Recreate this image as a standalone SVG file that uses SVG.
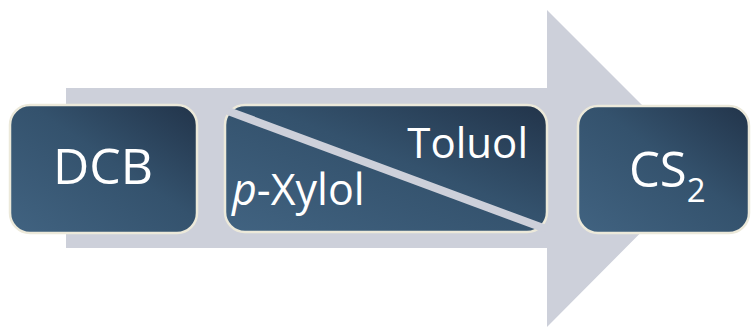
<svg xmlns="http://www.w3.org/2000/svg" width="751" height="327" viewBox="0 0 751 327">
<defs>
<linearGradient id="g" x1="0" y1="1" x2="1" y2="0">
<stop offset="0" stop-color="#416381"/>
<stop offset="0.55" stop-color="#34526d"/>
<stop offset="1" stop-color="#22344a"/>
</linearGradient>
<style>
.box{fill:url(#g);stroke:#ece9da;stroke-width:2.5}
.t{font-family:"Open Sans","Liberation Sans",sans-serif;fill:#ffffff}
</style>
</defs>
<rect width="751" height="327" fill="#ffffff"/>
<g id="arrow">
<polygon points="66,88 547,88 547,10 705,168 547,327 547,248 66,248" fill="#cdd0da"/>
</g>
<g id="dcb">
<rect class="box" x="10" y="105" width="187" height="128" rx="20"/>
<text class="t" x="103" y="184" font-size="50" text-anchor="middle">DCB</text>
</g>
<g id="mix">
<rect class="box" x="225" y="105" width="322" height="127" rx="20"/>
<line x1="228" y1="111" x2="546" y2="229" stroke="#cdd0da" stroke-width="8"/>
<text class="t" x="528" y="158" font-size="42" text-anchor="end">Toluol</text>
<text class="t" x="232" y="205" font-size="43"><tspan font-style="italic">p</tspan>-Xylol</text>
</g>
<g id="cs2">
<rect class="box" x="578" y="106" width="171" height="127" rx="20"/>
<text class="t" x="629" y="187" font-size="49">CS<tspan font-size="33" dy="15">2</tspan></text>
</g>
</svg>
